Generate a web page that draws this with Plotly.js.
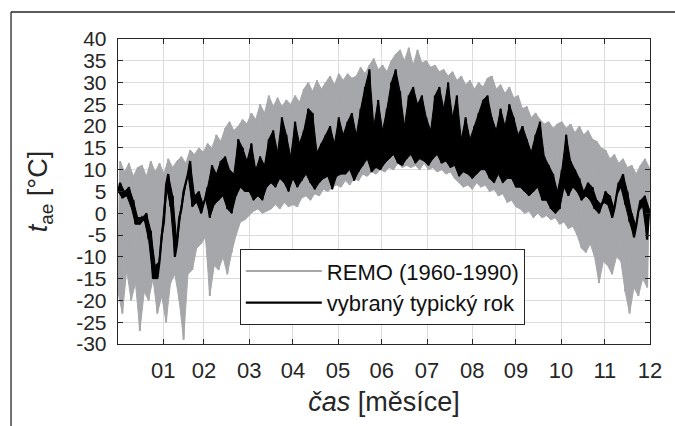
<!DOCTYPE html>
<html><head><meta charset="utf-8">
<script src="https://cdn.plot.ly/plotly-3.0.1.min.js"></script>
<style>html,body{margin:0;padding:0;background:#fff}#chart{width:675px;height:426px}</style>
</head><body><div id="chart"></div>
<script>
// sampling step of the envelope arrays, in days
const dayStep = 3;

// REMO (1960-1990): upper / lower envelope of the hourly band, every 3 days (°C)
const remoMax = [12,9.5,11.5,8.5,10.5,11,8.5,12,9.5,11.5,9,12.5,10.5,12,13,11.5,14.5,13.5,15,14,
  16,15,18,16.5,19.5,21,19,20,21.5,20.5,23,21.5,25,23,27,24.5,26.5,24.5,26,25,
  27,25.5,28.5,30,28,30.5,28.5,30,31.5,29.5,32,30.5,32,31,31.5,33.5,32,34,35.5,33,
  34,32.5,35,36.5,37.5,35,38,34,37.5,34.5,35,33.5,34,32.5,33,31.5,32.5,30.5,31.5,29.5,
  30.5,28.5,30,29,31,31.5,28.5,29.5,27.5,29,26.5,27,24,24.5,22,23,21.5,20.5,21,19.5,
  20.5,21,19.5,20.5,18.5,20,18,19,17,16.5,15,14.5,12.5,13.5,11.5,12.5,10.5,11,9,11,
  12.5,10.5];
const remoMin = [-18,-23,-13,-20,-16,-27,-18,-20,-15,-23,-19,-25,-16,-14,-20,-29,-14,-13,-8,-7,
  -5.5,-19,-12,-13,-10,-14,-9,-5,-2,-1.5,-0.5,0.5,1,0,0.5,1,2,1,2.5,1.5,
  2,1.5,3.5,4,3,4.5,4,5.5,5,6,6.5,6,7.5,6.5,8,7.5,9,8.5,9.5,9,
  10,9.5,10.5,10,11.5,10.5,11,10.5,11,10,11.5,10,10.5,9.5,10,9,9.5,8,7,6,
  6.5,5.5,7,6,6.5,5,5.5,4,4.5,2.5,3,1.5,1,0,0.5,-1,0,-1,-0.5,-1.5,
  -1,-2.5,-2,-3.5,-3,-5,-8,-9,-7,-10,-16,-11,-12,-14,-10,-11,-18,-23,-17,-19,
  -15,-17];

// vybraný typický rok: daily high / low, every 3 days (°C)
const typMax = [7,5,6,3,-1,-1,0,-4,-12,-11,-2,9,4,-7,1,7,12,4,5,2,
  6,11,9,12,13,10,9,17,15,12,16,10,13,11,17,19,14,22,18,13,
  21,16,19,24,23,14,16,18,20,16,22,18,21,23,18,24,29,33,20,26,
  19,24,30,33,28,20,27,29,25,27,22,19,27,29,24,30,22,27,17,22,
  17,20,23,26,27,22,19,24,20,25,22,18,20,17,14,18,21,13,11,9,
  5,10,18,12,10,8,5,7,6,3,2,5,4,1,7,9,5,0,-3,3,
  4,1];
const typMin = [5,3.5,4,1.5,-2.5,-2.5,-1.5,-6,-15,-15,-5,6.5,1.5,-10,-1,5,9,1.5,2.5,0,
  3.5,-1,2,3,4,1,0,4,6,5,5,3,4,3,6,7,6,8,7,5,
  8,6,7.5,9,7,5.5,7,8,8.5,5.5,8.5,9,9,10,7.5,9.5,11,12.5,9.5,10.5,
  10,11.5,12.5,13.5,11.5,11,12.5,13.5,11.5,12.5,12,11,12.5,13.5,11.5,12,10.5,11,8.5,9.5,
  9,8,9,10,10,8,7,9,7,8,8,6,6,5,4,5,6,3,3,1,
  0,1,6,4,6,5,3,4,3,1,0,2.5,2,-1,4,6,2,-2,-5.5,0.5,
  1.5,-6];

const monthEnds = [31,59,90,120,151,181,212,243,273,304,334,365];
const monthLabels = ["01","02","03","04","05","06","07","08","09","10","11","12"];
const yTickVals = [-30,-25,-20,-15,-10,-5,0,5,10,15,20,25,30,35,40];
const yTickLabels = ["-30","-25","-20","-15","-10","-5","0","5","10","15","20","25","30","35","40"];

// hourly-looking line: alternate low (day 3k) and high (day 3k+1.5)
function zigzag(hi, lo) {
  const x = [], y = [];
  for (let k = 0; k < hi.length; k++) {
    x.push(k * dayStep); y.push(lo[k]);
    x.push(k * dayStep + dayStep / 2); y.push(hi[k]);
  }
  return {x, y};
}
// closed outline of a band (upper edge forward, lower edge backward)
function band(hi, lo) {
  const x = [], y = [];
  for (let k = 0; k < hi.length; k++) { x.push(k * dayStep + dayStep / 2); y.push(hi[k]); }
  for (let k = lo.length - 1; k >= 0; k--) { x.push(k * dayStep); y.push(lo[k]); }
  return {x, y};
}
const remo = zigzag(remoMax, remoMin);
const remoBand = band(remoMax, remoMin);
const typ = zigzag(typMax, typMin);
const typBand = band(typMax, typMin);

const grey = '#a5a7aa';
const traces = [
  {x: remoBand.x, y: remoBand.y, type: 'scatter', mode: 'lines', fill: 'toself',
   fillcolor: grey, line: {color: grey, width: 1}, showlegend: false, hoverinfo: 'skip'},
  {x: remo.x, y: remo.y, type: 'scatter', mode: 'lines', name: 'REMO (1960-1990)',
   line: {color: grey, width: 2}},
  {x: typBand.x, y: typBand.y, type: 'scatter', mode: 'lines', fill: 'toself',
   fillcolor: '#000000', line: {color: '#000000', width: 1}, showlegend: false, hoverinfo: 'skip'},
  {x: typ.x, y: typ.y, type: 'scatter', mode: 'lines', name: 'vybraný typický rok',
   line: {color: '#000000', width: 2.2}}
];

const axisCommon = {
  showgrid: true, gridcolor: '#dcdcdc', gridwidth: 1, zeroline: false,
  showline: true, linecolor: '#262626', linewidth: 1.3, mirror: 'ticks',
  ticks: 'inside', ticklen: 5, tickwidth: 1, tickcolor: '#262626'
};

const layout = {
  width: 675, height: 426,
  margin: {l: 118, r: 25, t: 39, b: 82},
  paper_bgcolor: '#ffffff', plot_bgcolor: '#ffffff',
  font: {family: '"Liberation Sans", Arial, sans-serif', size: 21, color: '#262626'},
  showlegend: true,
  legend: {x: 0.229, y: 0.311, xanchor: 'left', yanchor: 'top', bgcolor: '#ffffff',
           bordercolor: '#262626', borderwidth: 1, itemwidth: 76,
           font: {size: 22, color: '#111'}},
  xaxis: Object.assign({}, axisCommon, {
    range: [0, 365], tickmode: 'array', tickvals: monthEnds, ticktext: monthLabels,
    ticklabelstandoff: 6, tickfont: {size: 22, color: '#262626'},
    title: {text: '<i>čas</i> [měsíce]', font: {size: 27, color: '#262626'}, standoff: 10}
  }),
  yaxis: Object.assign({}, axisCommon, {
    range: [-30, 40], tickmode: 'array', tickvals: yTickVals, ticktext: yTickLabels,
    ticklabelstandoff: 6, tickfont: {size: 21, color: '#262626'},
    title: {text: '<i>t</i><sub>ae</sub> [°C]', font: {size: 27, color: '#262626'}, standoff: 20}
  }),
  shapes: [
    {type: 'line', xref: 'paper', yref: 'paper', x0: -0.2011, x1: 1.06, y0: 1.0885, y1: 1.0885,
     line: {color: '#262626', width: 1.3}},
    {type: 'line', xref: 'paper', yref: 'paper', x0: -0.2011, x1: -0.2011, y0: -0.3, y1: 1.0885,
     line: {color: '#262626', width: 1.3}}
  ]
};

Plotly.newPlot('chart', traces, layout, {displayModeBar: false, staticPlot: true});
</script>
</body></html>
